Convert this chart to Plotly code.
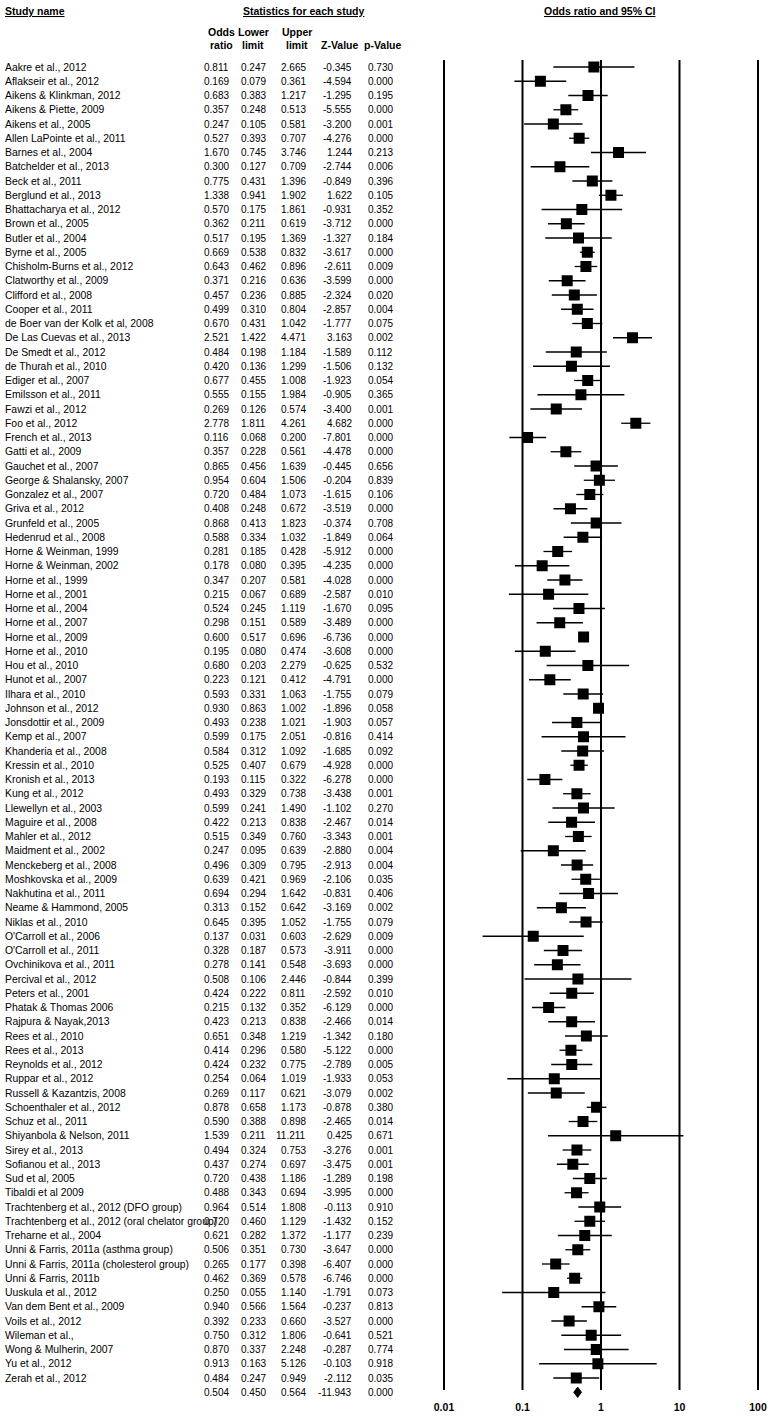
import plotly.graph_objects as go

STUDIES = [
    "Aakre et al., 2012", "Aflakseir et al., 2012", "Aikens & Klinkman, 2012", "Aikens & Piette, 2009",
    "Aikens et al., 2005", "Allen LaPointe et al., 2011", "Barnes et al., 2004", "Batchelder et al., 2013",
    "Beck et al., 2011", "Berglund et al., 2013", "Bhattacharya et al., 2012", "Brown et al., 2005",
    "Butler et al., 2004", "Byrne et al., 2005", "Chisholm-Burns et al., 2012", "Clatworthy et al., 2009",
    "Clifford et al., 2008", "Cooper et al., 2011", "de Boer van der Kolk et al, 2008", "De Las Cuevas et al., 2013",
    "De Smedt et al., 2012", "de Thurah et al., 2010", "Ediger et al., 2007", "Emilsson et al., 2011",
    "Fawzi et al., 2012", "Foo et al., 2012", "French et al., 2013", "Gatti et al., 2009",
    "Gauchet et al., 2007", "George & Shalansky, 2007", "Gonzalez et al., 2007", "Griva et al., 2012",
    "Grunfeld et al., 2005", "Hedenrud et al., 2008", "Horne & Weinman, 1999", "Horne & Weinman, 2002",
    "Horne et al., 1999", "Horne et al., 2001", "Horne et al., 2004", "Horne et al., 2007",
    "Horne et al., 2009", "Horne et al., 2010", "Hou et al., 2010", "Hunot et al., 2007",
    "Ilhara et al., 2010", "Johnson et al., 2012", "Jonsdottir et al., 2009", "Kemp et al., 2007",
    "Khanderia et al., 2008", "Kressin et al., 2010", "Kronish et al., 2013", "Kung et al., 2012",
    "Llewellyn et al., 2003", "Maguire et al., 2008", "Mahler et al., 2012", "Maidment et al., 2002",
    "Menckeberg et al., 2008", "Moshkovska et al., 2009", "Nakhutina et al., 2011", "Neame & Hammond, 2005",
    "Niklas et al., 2010", "O'Carroll et al., 2006", "O'Carroll et al., 2011", "Ovchinikova et al., 2011",
    "Percival et al., 2012", "Peters et al., 2001", "Phatak & Thomas 2006", "Rajpura & Nayak,2013",
    "Rees et al., 2010", "Rees et al., 2013", "Reynolds et al., 2012", "Ruppar et al., 2012",
    "Russell & Kazantzis, 2008", "Schoenthaler et al., 2012", "Schuz et al., 2011", "Shiyanbola & Nelson, 2011",
    "Sirey et al., 2013", "Sofianou et al., 2013", "Sud et al, 2005", "Tibaldi et al 2009",
    "Trachtenberg et al., 2012 (DFO group)", "Trachtenberg et al., 2012 (oral chelator group)",
    "Treharne et al., 2004", "Unni & Farris, 2011a (asthma group)", "Unni & Farris, 2011a (cholesterol group)",
    "Unni & Farris, 2011b", "Uuskula et al., 2012", "Van dem Bent et al., 2009", "Voils et al., 2012",
    "Wileman et al.,", "Wong & Mulherin, 2007", "Yu et al., 2012", "Zerah et al., 2012",
]

ODDS = [0.811, 0.169, 0.683, 0.357, 0.247, 0.527, 1.670, 0.300, 0.775, 1.338, 0.570, 0.362, 0.517, 0.669,
        0.643, 0.371, 0.457, 0.499, 0.670, 2.521, 0.484, 0.420, 0.677, 0.555, 0.269, 2.778, 0.116, 0.357,
        0.865, 0.954, 0.720, 0.408, 0.868, 0.588, 0.281, 0.178, 0.347, 0.215, 0.524, 0.298, 0.600, 0.195,
        0.680, 0.223, 0.593, 0.930, 0.493, 0.599, 0.584, 0.525, 0.193, 0.493, 0.599, 0.422, 0.515, 0.247,
        0.496, 0.639, 0.694, 0.313, 0.645, 0.137, 0.328, 0.278, 0.508, 0.424, 0.215, 0.423, 0.651, 0.414,
        0.424, 0.254, 0.269, 0.878, 0.590, 1.539, 0.494, 0.437, 0.720, 0.488, 0.964, 0.720, 0.621, 0.506,
        0.265, 0.462, 0.250, 0.940, 0.392, 0.750, 0.870, 0.913, 0.484]

LOWER = [0.247, 0.079, 0.383, 0.248, 0.105, 0.393, 0.745, 0.127, 0.431, 0.941, 0.175, 0.211, 0.195, 0.538,
         0.462, 0.216, 0.236, 0.310, 0.431, 1.422, 0.198, 0.136, 0.455, 0.155, 0.126, 1.811, 0.068, 0.228,
         0.456, 0.604, 0.484, 0.248, 0.413, 0.334, 0.185, 0.080, 0.207, 0.067, 0.245, 0.151, 0.517, 0.080,
         0.203, 0.121, 0.331, 0.863, 0.238, 0.175, 0.312, 0.407, 0.115, 0.329, 0.241, 0.213, 0.349, 0.095,
         0.309, 0.421, 0.294, 0.152, 0.395, 0.031, 0.187, 0.141, 0.106, 0.222, 0.132, 0.213, 0.348, 0.296,
         0.232, 0.064, 0.117, 0.658, 0.388, 0.211, 0.324, 0.274, 0.438, 0.343, 0.514, 0.460, 0.282, 0.351,
         0.177, 0.369, 0.055, 0.566, 0.233, 0.312, 0.337, 0.163, 0.247]

UPPER = [2.665, 0.361, 1.217, 0.513, 0.581, 0.707, 3.746, 0.709, 1.396, 1.902, 1.861, 0.619, 1.369, 0.832,
         0.896, 0.636, 0.885, 0.804, 1.042, 4.471, 1.184, 1.299, 1.008, 1.984, 0.574, 4.261, 0.200, 0.561,
         1.639, 1.506, 1.073, 0.672, 1.823, 1.032, 0.428, 0.395, 0.581, 0.689, 1.119, 0.589, 0.696, 0.474,
         2.279, 0.412, 1.063, 1.002, 1.021, 2.051, 1.092, 0.679, 0.322, 0.738, 1.490, 0.838, 0.760, 0.639,
         0.795, 0.969, 1.642, 0.642, 1.052, 0.603, 0.573, 0.548, 2.446, 0.811, 0.352, 0.838, 1.219, 0.580,
         0.775, 1.019, 0.621, 1.173, 0.898, 11.211, 0.753, 0.697, 1.186, 0.694, 1.808, 1.129, 1.372, 0.730,
         0.398, 0.578, 1.140, 1.564, 0.660, 1.806, 2.248, 5.126, 0.949]

ZVAL = [-0.345, -4.594, -1.295, -5.555, -3.200, -4.276, 1.244, -2.744, -0.849, 1.622, -0.931, -3.712, -1.327,
        -3.617, -2.611, -3.599, -2.324, -2.857, -1.777, 3.163, -1.589, -1.506, -1.923, -0.905, -3.400, 4.682,
        -7.801, -4.478, -0.445, -0.204, -1.615, -3.519, -0.374, -1.849, -5.912, -4.235, -4.028, -2.587, -1.670,
        -3.489, -6.736, -3.608, -0.625, -4.791, -1.755, -1.896, -1.903, -0.816, -1.685, -4.928, -6.278, -3.438,
        -1.102, -2.467, -3.343, -2.880, -2.913, -2.106, -0.831, -3.169, -1.755, -2.629, -3.911, -3.693, -0.844,
        -2.592, -6.129, -2.466, -1.342, -5.122, -2.789, -1.933, -3.079, -0.878, -2.465, 0.425, -3.276, -3.475,
        -1.289, -3.995, -0.113, -1.432, -1.177, -3.647, -6.407, -6.746, -1.791, -0.237, -3.527, -0.641, -0.287,
        -0.103, -2.112]

PVAL = [0.730, 0.000, 0.195, 0.000, 0.001, 0.000, 0.213, 0.006, 0.396, 0.105, 0.352, 0.000, 0.184, 0.000,
        0.009, 0.000, 0.020, 0.004, 0.075, 0.002, 0.112, 0.132, 0.054, 0.365, 0.001, 0.000, 0.000, 0.000,
        0.656, 0.839, 0.106, 0.000, 0.708, 0.064, 0.000, 0.000, 0.000, 0.010, 0.095, 0.000, 0.000, 0.000,
        0.532, 0.000, 0.079, 0.058, 0.057, 0.414, 0.092, 0.000, 0.000, 0.001, 0.270, 0.014, 0.001, 0.004,
        0.004, 0.035, 0.406, 0.002, 0.079, 0.009, 0.000, 0.000, 0.399, 0.010, 0.000, 0.014, 0.180, 0.000,
        0.005, 0.053, 0.002, 0.380, 0.014, 0.671, 0.001, 0.001, 0.198, 0.000, 0.910, 0.152, 0.239, 0.000,
        0.000, 0.000, 0.073, 0.813, 0.000, 0.521, 0.774, 0.918, 0.035]

SUMMARY = [0.504, 0.450, 0.564, -11.943, 0.000]  # odds ratio, lower, upper, z, p

TICKS = [0.01, 0.1, 1, 10, 100]
TICK_LABELS = ["0.01", "0.1", "1", "10", "100"]

# ---------------- layout constants (pixels) ----------------
W, H = 772, 1417
ROW0_PX, ROW_PX = 67.0, 14.25
FONT = "Liberation Sans, Arial, sans-serif"
FS_NAME = 10.4
FS_NUM = 10.0
FS_HEAD = 10.5
COL_RIGHT = [231, 268, 308, 354, 395]


def row_of_px(p):
    return (p - ROW0_PX) / ROW_PX


n = len(STUDIES)
rows = list(range(n))

fig = go.Figure()

# vertical reference lines
for t in TICKS:
    fig.add_trace(go.Scatter(x=[t, t], y=[row_of_px(60), row_of_px(1390)], mode="lines",
                             line=dict(color="black", width=2), hoverinfo="skip", showlegend=False))

# study estimates with CIs
fig.add_trace(go.Scatter(
    x=ODDS, y=rows, mode="markers",
    marker=dict(symbol="square", size=11, color="black"),
    error_x=dict(type="data", symmetric=False,
                 array=[u - o for u, o in zip(UPPER, ODDS)],
                 arrayminus=[o - l for o, l in zip(ODDS, LOWER)],
                 color="black", thickness=1.3, width=0),
    showlegend=False, hoverinfo="skip"))

# summary diamond
half = 0.36
fig.add_trace(go.Scatter(
    x=[SUMMARY[1], SUMMARY[0], SUMMARY[2], SUMMARY[0], SUMMARY[1]],
    y=[n, n - half, n, n + half, n],
    mode="lines", fill="toself", fillcolor="black",
    line=dict(color="black", width=1), showlegend=False, hoverinfo="skip"))

# tick labels
fig.add_trace(go.Scatter(
    x=TICKS, y=[row_of_px(1408)] * len(TICKS), mode="text",
    text=["<b>%s</b>" % s for s in TICK_LABELS],
    textfont=dict(family=FONT, size=10.5, color="black"),
    cliponaxis=False, showlegend=False, hoverinfo="skip"))

ann = []


def txt(x_px, row, s, anchor="right", bold=False, size=FS_NAME):
    ann.append(dict(x=x_px / W, xref="paper", y=row, yref="y", text=("<b>%s</b>" % s) if bold else s,
                    showarrow=False, xanchor=anchor, yanchor="middle",
                    font=dict(family=FONT, size=size, color="black")))


for i in range(n):
    txt(3, i, STUDIES[i], anchor="left")
    vals = [ODDS[i], LOWER[i], UPPER[i], ZVAL[i], PVAL[i]]
    for c, v in zip(COL_RIGHT, vals):
        txt(c, i, "%.3f" % v, size=FS_NUM)
for c, v in zip(COL_RIGHT, SUMMARY):
    txt(c, n, "%.3f" % v, size=FS_NUM)

# headers
txt(3, row_of_px(11), "<u>Study name</u>", anchor="left", bold=True, size=FS_HEAD)
txt(304, row_of_px(11), "<u>Statistics for each study</u>", anchor="center", bold=True, size=FS_HEAD)
txt(600, row_of_px(11), "<u>Odds ratio and 95% CI</u>", anchor="center", bold=True, size=FS_HEAD)
for cx, l1, l2 in [(221, "Odds", "ratio"), (253, "Lower", "limit"), (297, "Upper", "limit")]:
    txt(cx, row_of_px(32), l1, anchor="center", bold=True, size=FS_HEAD)
    txt(cx, row_of_px(45), l2, anchor="center", bold=True, size=FS_HEAD)
txt(340, row_of_px(45), "Z-Value", anchor="center", bold=True, size=FS_HEAD)
txt(383, row_of_px(45), "p-Value", anchor="center", bold=True, size=FS_HEAD)

lo_px, hi_px = 436, 766
dec = (758 - 444) / 4.0
fig.update_layout(
    width=W, height=H, margin=dict(l=0, r=0, t=0, b=0),
    paper_bgcolor="white", plot_bgcolor="white",
    annotations=ann,
    xaxis=dict(type="log", domain=[lo_px / W, hi_px / W],
               range=[-2 - (444 - lo_px) / dec, 2 + (hi_px - 758) / dec],
               visible=False, showgrid=False, zeroline=False),
    yaxis=dict(range=[row_of_px(H), row_of_px(0)], domain=[0, 1],
               visible=False, showgrid=False, zeroline=False),
)

fig.write_html("out.html", config={"displayModeBar": False},
               post_script="document.body.style.margin='0px';")
